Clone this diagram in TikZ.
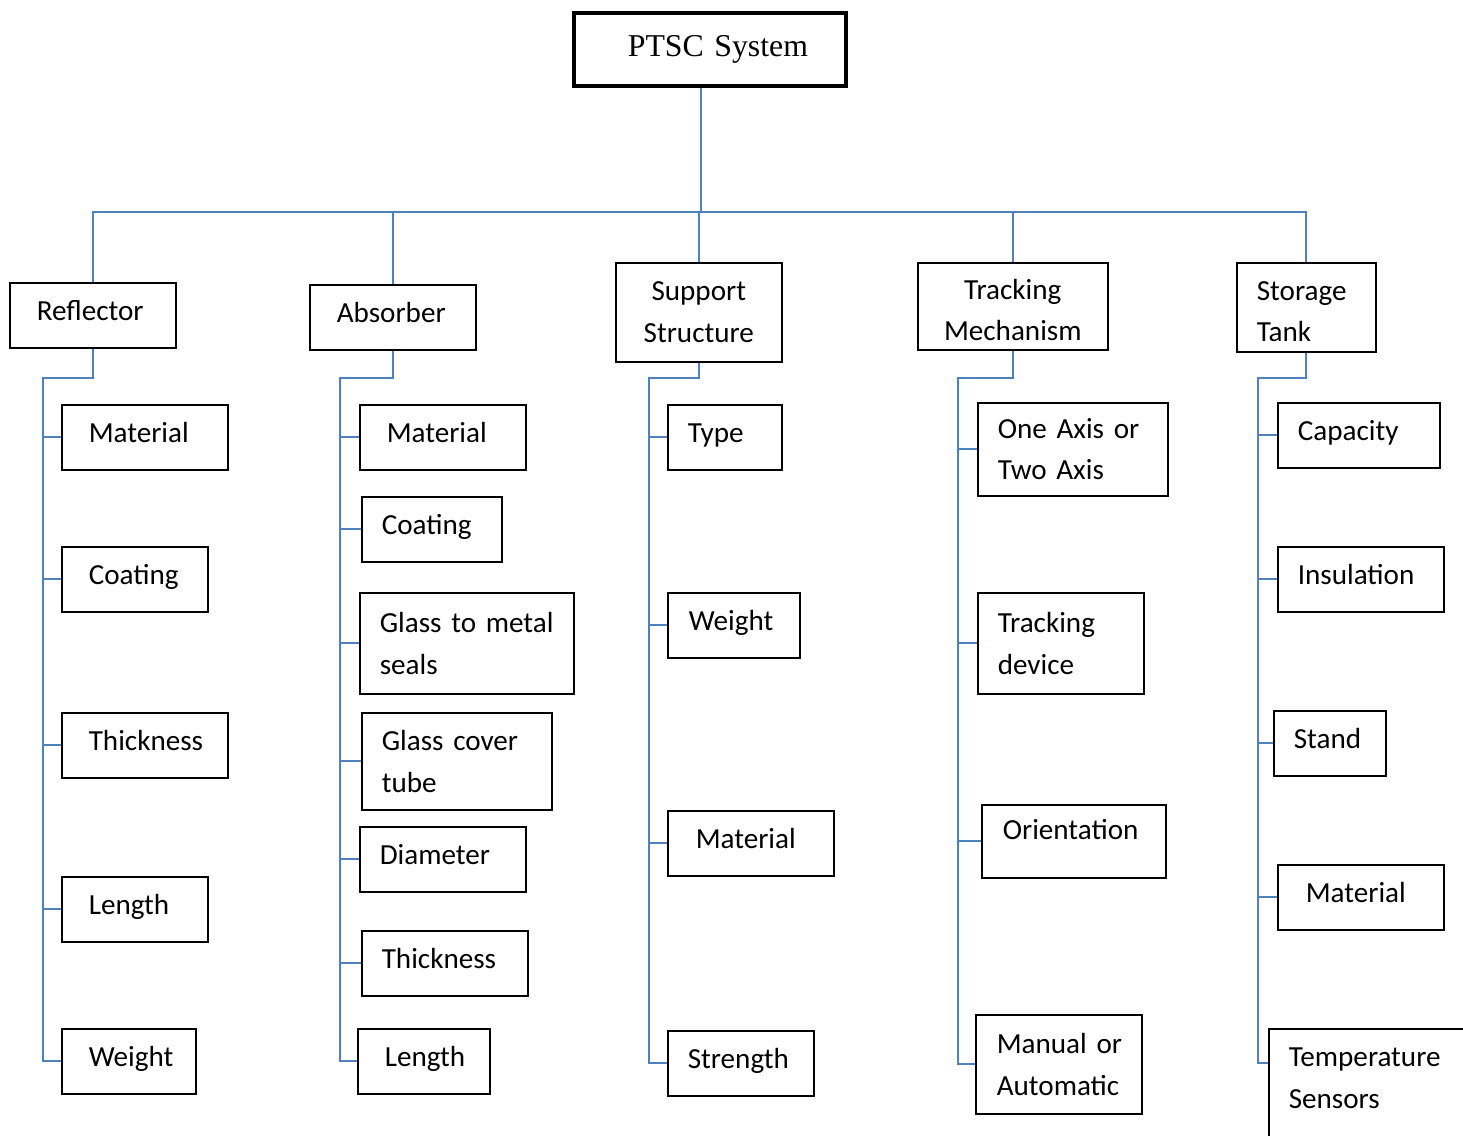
\documentclass[tikz,border=0pt]{standalone}
\usepackage{fontspec}
\usepackage{tikz}
\usepackage{xcolor}
\setmainfont{Carlito}
\newfontfamily\timesfont{Liberation Serif}
\usetikzlibrary{positioning}
\hyphenpenalty=10000
\exhyphenpenalty=10000
\newcommand{\unitpx}{0.3777pt}
\definecolor{linkblue}{HTML}{4F81BD}
\tikzstyle{root} = [rectangle, draw=black, line width=1.5pt, anchor=north west, align=right, font=\timesfont\fontsize{12}{14}\selectfont]
\tikzstyle{leaftwo} = [rectangle, draw=black, line width=0.6pt, anchor=north west, align=left, font=\fontsize{11}{15.7}\selectfont]
\tikzstyle{leaf} = [leaftwo, text depth=3.4pt]
\tikzstyle{link} = [draw=linkblue, line width=0.8pt]
\tikzset{boxsize/.style n args={3}{minimum width=#1*\unitpx, minimum height=#2*\unitpx, inner xsep=#3*\unitpx, text width=#1*\unitpx-2*#3*\unitpx}}

\begin{document}
\begin{tikzpicture}[x=\unitpx, y=-\unitpx]
        \clip (0,0) rectangle (1463,1135);
        \node (ptsc) [root, boxsize={272}{73}{38}] at (572,11) {PTSC~System};

        % first level
        \node (refl) [leaf, boxsize={166}{65}{27}] at (9,282) {Reflector};
        \node (abs) [leaf, boxsize={166}{65}{27}] at (309,284) {Absorber};
        \node (sup) [leaftwo, align=center, boxsize={166}{99}{10}] at (615,262) {Support\\Structure};
        \node (trk) [leaftwo, align=center, boxsize={190}{87}{10}, text height=10.3pt] at (917,262) {Tracking\\Mechanism};
        \node (sto) [leaftwo, boxsize={139}{89}{20}, text height=10.3pt] at (1236,262) {Storage\\Tank};

        % reflector
        \node (refMat) [leaf, boxsize={166}{65}{27}] at (61,404) {Material};
        \node (refCoat) [leaf, boxsize={146}{65}{27}] at (61,546) {Coating};
        \node (refThick) [leaf, boxsize={166}{65}{27}] at (61,712) {Thickness};
        \node (refLen) [leaf, boxsize={146}{65}{27}] at (61,876) {Length};
        \node (refWt) [leaf, boxsize={134}{65}{27}] at (61,1028) {Weight};

        % absorber
        \node (absMat) [leaf, boxsize={166}{65}{27}] at (359,404) {Material};
        \node (absCoat) [leaf, boxsize={140}{65}{20}] at (361,496) {Coating};
        \node (absGlass) [leaftwo, boxsize={214}{101}{20}] at (359,592) {Glass~to~metal\\seals};
        \node (absCover) [leaftwo, boxsize={190}{97}{20}] at (361,712) {Glass~cover\\tube};
        \node (absDia) [leaf, boxsize={166}{65}{20}] at (359,826) {Diameter};
        \node (absThick) [leaf, boxsize={166}{65}{20}] at (361,930) {Thickness};
        \node (absLen) [leaf, boxsize={132}{65}{27}] at (357,1028) {Length};

        % support structure
        \node (supType) [leaf, boxsize={114}{65}{20}] at (667,404) {Type};
        \node (supWt) [leaf, boxsize={132}{65}{21}] at (667,592) {Weight};
        \node (supMat) [leaf, boxsize={166}{65}{28}] at (667,810) {Material};
        \node (supStr) [leaf, boxsize={146}{65}{20}] at (667,1030) {Strength};

        % tracking mechanism
        \node (trkAxis) [leaftwo, boxsize={190}{93}{20}] at (977,402) {One~Axis~or\\Two~Axis};
        \node (trkDev) [leaftwo, boxsize={166}{101}{20}] at (977,592) {Tracking\\device};
        \node (trkOri) [leaf, boxsize={184}{73}{21}, text depth=9pt] at (981,804) {Orientation};
        \node (trkMan) [leaftwo, boxsize={166}{99}{21}] at (975,1014) {Manual~or\\Automatic};

        % storage tank
        \node (stoCap) [leaf, boxsize={162}{65}{20}] at (1277,402) {Capacity};
        \node (stoIns) [leaf, boxsize={166}{65}{20}] at (1277,546) {Insulation};
        \node (stoStand) [leaf, boxsize={112}{65}{20}] at (1273,710) {Stand};
        \node (stoMat) [leaf, boxsize={166}{65}{28}] at (1277,864) {Material};
        \node (stoTemp) [leaftwo, boxsize={230}{0}{20}, inner ysep=19*\unitpx, text depth=140*\unitpx] at (1268,1028) {Temperature\\Sensors};

        \coordinate (bus) at (701,212);
        \coordinate (reflTop) at (43,378);
        \coordinate (absTop) at (340,378);
        \coordinate (supTop) at (649,378);
        \coordinate (trkTop) at (958,378);
        \coordinate (stoTop) at (1258,378);

        \draw [link] (bus |- ptsc.south) -- (bus);
        \draw [link] (refl.north) |- (bus) -| (sto.north);
        \draw [link] (abs.north) -- (abs.north |- bus);
        \draw [link] (sup.north) -- (sup.north |- bus);
        \draw [link] (trk.north) -- (trk.north |- bus);

        \draw [link] (refl.south) |- (reflTop) |- (refWt.west);
        \draw [link] (refMat.west) -- (refMat.west -| reflTop);
        \draw [link] (refCoat.west) -- (refCoat.west -| reflTop);
        \draw [link] (refThick.west) -- (refThick.west -| reflTop);
        \draw [link] (refLen.west) -- (refLen.west -| reflTop);

        \draw [link] (abs.south) |- (absTop) |- (absLen.west);
        \draw [link] (absMat.west) -- (absMat.west -| absTop);
        \draw [link] (absCoat.west) -- (absCoat.west -| absTop);
        \draw [link] (absGlass.west) -- (absGlass.west -| absTop);
        \draw [link] (absCover.west) -- (absCover.west -| absTop);
        \draw [link] (absDia.west) -- (absDia.west -| absTop);
        \draw [link] (absThick.west) -- (absThick.west -| absTop);

        \draw [link] (sup.south) |- (supTop) |- (supStr.west);
        \draw [link] (supType.west) -- (supType.west -| supTop);
        \draw [link] (supWt.west) -- (supWt.west -| supTop);
        \draw [link] (supMat.west) -- (supMat.west -| supTop);

        \draw [link] (trk.south) |- (trkTop) |- (trkMan.west);
        \draw [link] (trkAxis.west) -- (trkAxis.west -| trkTop);
        \draw [link] (trkDev.west) -- (trkDev.west -| trkTop);
        \draw [link] (trkOri.west) -- (trkOri.west -| trkTop);

        \draw [link] (sto.south) |- (stoTop) |- ([yshift=-35*\unitpx]stoTemp.north west);
        \draw [link] (stoCap.west) -- (stoCap.west -| stoTop);
        \draw [link] (stoIns.west) -- (stoIns.west -| stoTop);
        \draw [link] (stoStand.west) -- (stoStand.west -| stoTop);
        \draw [link] (stoMat.west) -- (stoMat.west -| stoTop);
    \end{tikzpicture}
\end{document}
